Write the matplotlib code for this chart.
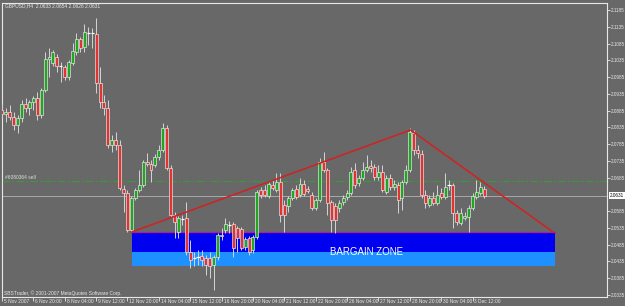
import matplotlib
matplotlib.use('Agg')
import matplotlib.pyplot as plt
from matplotlib.patches import Rectangle
from matplotlib.transforms import blended_transform_factory

# ---- data (GBPUSD H4) ----
opens = [2.0887, 2.0875, 2.0881, 2.0866, 2.0842, 2.0863, 2.0905, 2.0893, 2.0911, 2.0922,
         2.0872, 2.0946, 2.1039, 2.1027, 2.1045, 2.1018, 2.1015, 2.0985, 2.1027, 2.1060,
         2.1099, 2.1075, 2.1116, 2.1116, 2.1114, 2.0967, 2.0911, 2.0893, 2.0782, 2.0797,
         2.0782, 2.0651, 2.0639, 2.0528, 2.0624, 2.0648, 2.0663, 2.0731, 2.0725, 2.0722,
         2.0746, 2.0767, 2.0833, 2.0714, 2.0573, 2.0522, 2.0561, 2.0564, 2.0463, 2.0445,
         2.0448, 2.0451, 2.0445, 2.0445, 2.0424, 2.0448, 2.0514, 2.0528, 2.0543, 2.0546,
         2.0534, 2.0531, 2.0478, 2.0505, 2.0469, 2.0508, 2.0648, 2.0648, 2.0630, 2.0663,
         2.0648, 2.0672, 2.0603, 2.0600, 2.0624, 2.0651, 2.0633, 2.0666, 2.0651, 2.0633,
         2.0594, 2.0618, 2.0731, 2.0708, 2.0612, 2.0600, 2.0594, 2.0612, 2.0627, 2.0639,
         2.0708, 2.0669, 2.0684, 2.0708, 2.0719, 2.0716, 2.0687, 2.0702, 2.0642, 2.0684,
         2.0657, 2.0663, 2.0624, 2.0672, 2.0708, 2.0818, 2.0767, 2.0755, 2.0633, 2.0603,
         2.0624, 2.0609, 2.0639, 2.0627, 2.0663, 2.0663, 2.0579, 2.0549, 2.0564, 2.0567,
         2.0594, 2.0627, 2.0639, 2.0651]
highs = [2.0905, 2.0893, 2.0902, 2.0881, 2.0872, 2.0917, 2.0922, 2.0917, 2.0928, 2.0940,
         2.0952, 2.1060, 2.1072, 2.1066, 2.1054, 2.1030, 2.1021, 2.1036, 2.1087, 2.1116,
         2.1105, 2.1143, 2.1134, 2.1131, 2.1161, 2.1015, 2.0931, 2.0917, 2.0812, 2.0821,
         2.0797, 2.0663, 2.0648, 2.0630, 2.0654, 2.0708, 2.0737, 2.0758, 2.0737, 2.0755,
         2.0782, 2.0848, 2.0842, 2.0722, 2.0582, 2.0570, 2.0573, 2.0612, 2.0499, 2.0463,
         2.0469, 2.0469, 2.0454, 2.0463, 2.0454, 2.0519, 2.0534, 2.0564, 2.0555, 2.0552,
         2.0540, 2.0537, 2.0508, 2.0511, 2.0514, 2.0648, 2.0657, 2.0663, 2.0672, 2.0678,
         2.0699, 2.0699, 2.0618, 2.0630, 2.0654, 2.0663, 2.0684, 2.0678, 2.0660, 2.0642,
         2.0624, 2.0743, 2.0761, 2.0714, 2.0618, 2.0609, 2.0618, 2.0633, 2.0648, 2.0716,
         2.0728, 2.0693, 2.0731, 2.0752, 2.0737, 2.0725, 2.0722, 2.0722, 2.0693, 2.0696,
         2.0678, 2.0672, 2.0678, 2.0722, 2.0833, 2.0827, 2.0782, 2.0767, 2.0648, 2.0633,
         2.0642, 2.0663, 2.0654, 2.0699, 2.0678, 2.0669, 2.0588, 2.0594, 2.0582, 2.0603,
         2.0639, 2.0678, 2.0672, 2.0660]
lows = [2.0863, 2.0851, 2.0857, 2.0827, 2.0818, 2.0851, 2.0881, 2.0872, 2.0887, 2.0857,
        2.0863, 2.0940, 2.0985, 2.1018, 2.1000, 2.0970, 2.0976, 2.0976, 2.1021, 2.1051,
        2.1060, 2.1060, 2.1081, 2.1072, 2.0937, 2.0893, 2.0872, 2.0773, 2.0761, 2.0767,
        2.0648, 2.0582, 2.0522, 2.0522, 2.0618, 2.0642, 2.0657, 2.0719, 2.0672, 2.0716,
        2.0737, 2.0761, 2.0708, 2.0567, 2.0505, 2.0505, 2.0543, 2.0454, 2.0415, 2.0421,
        2.0424, 2.0421, 2.0394, 2.0385, 2.0349, 2.0439, 2.0499, 2.0519, 2.0519, 2.0448,
        2.0463, 2.0469, 2.0469, 2.0454, 2.0460, 2.0502, 2.0624, 2.0627, 2.0624, 2.0648,
        2.0642, 2.0552, 2.0522, 2.0582, 2.0618, 2.0621, 2.0627, 2.0630, 2.0639, 2.0588,
        2.0588, 2.0612, 2.0702, 2.0573, 2.0522, 2.0519, 2.0582, 2.0603, 2.0618, 2.0633,
        2.0654, 2.0660, 2.0678, 2.0702, 2.0702, 2.0678, 2.0678, 2.0642, 2.0636, 2.0648,
        2.0648, 2.0579, 2.0588, 2.0666, 2.0702, 2.0752, 2.0743, 2.0624, 2.0594, 2.0597,
        2.0603, 2.0603, 2.0621, 2.0621, 2.0648, 2.0534, 2.0543, 2.0543, 2.0558, 2.0522,
        2.0588, 2.0621, 2.0633, 2.0624]
closes = [2.0875, 2.0881, 2.0866, 2.0842, 2.0863, 2.0905, 2.0893, 2.0911, 2.0922, 2.0872,
          2.0946, 2.1039, 2.1045, 2.1060, 2.1018, 2.1018, 2.0985, 2.1030, 2.1063, 2.1099,
          2.1072, 2.1119, 2.1116, 2.1116, 2.0967, 2.0911, 2.0893, 2.0782, 2.0797, 2.0782,
          2.0654, 2.0639, 2.0528, 2.0624, 2.0648, 2.0663, 2.0731, 2.0725, 2.0708, 2.0746,
          2.0767, 2.0833, 2.0714, 2.0573, 2.0552, 2.0564, 2.0561, 2.0463, 2.0439, 2.0445,
          2.0448, 2.0439, 2.0424, 2.0421, 2.0448, 2.0514, 2.0511, 2.0546, 2.0543, 2.0475,
          2.0505, 2.0475, 2.0502, 2.0463, 2.0508, 2.0642, 2.0633, 2.0633, 2.0666, 2.0654,
          2.0672, 2.0573, 2.0573, 2.0624, 2.0648, 2.0627, 2.0666, 2.0636, 2.0645, 2.0594,
          2.0618, 2.0731, 2.0708, 2.0609, 2.0558, 2.0558, 2.0609, 2.0624, 2.0639, 2.0702,
          2.0663, 2.0684, 2.0708, 2.0716, 2.0714, 2.0687, 2.0702, 2.0648, 2.0684, 2.0657,
          2.0666, 2.0618, 2.0672, 2.0708, 2.0821, 2.0767, 2.0758, 2.0633, 2.0609, 2.0624,
          2.0609, 2.0633, 2.0627, 2.0657, 2.0663, 2.0579, 2.0552, 2.0579, 2.0570, 2.0594,
          2.0630, 2.0642, 2.0657, 2.0631]

xtick_idx = [0, 8, 16, 24, 32, 40, 48, 56, 64, 72, 80, 88, 96, 104, 112, 120]
xtick_labels = ['5 Nov 2007', '6 Nov 20:00', '8 Nov 04:00', '9 Nov 12:00', '12 Nov 20:00',
                '14 Nov 04:00', '15 Nov 12:00', '16 Nov 20:00', '20 Nov 04:00', '21 Nov 12:00',
                '22 Nov 20:00', '26 Nov 04:00', '27 Nov 12:00', '28 Nov 20:00', '30 Nov 04:00',
                '3 Dec 12:00']
ytick_vals = [2.1185, 2.1135, 2.1085, 2.1035, 2.0985, 2.0935, 2.0885, 2.0835, 2.0785,
              2.0735, 2.0685, 2.0585, 2.0535, 2.0485, 2.0435, 2.0385, 2.0335]
ytick_labels = ['%.4f' % v for v in ytick_vals]

bid_price = 2.0631
order_price = 2.0675
trend_x = [33.0, 104.2, 140.6]
trend_y = [2.0522, 2.0827, 2.0522]
zone_x = [33.2, 141.1]
zone_levels = [2.0522, 2.0463, 2.0421]
zone_label_x = 93.0
title_text = 'GBPUSD,H4  2.0633 2.0654 2.0626 2.0631'

# ---- style ----
W, H = 625, 306
BG = '#686868'
FG = '#e8e8e8'
UP = '#22a522'
DN = '#e03434'
FONT = 'Liberation Sans'

fig = plt.figure(figsize=(W / 100, H / 100), dpi=100)
fig.patch.set_facecolor(BG)
ax = fig.add_axes([2 / W, 9 / H, 605 / W, 294 / H])
ax.set_facecolor(BG)
ax.set_xlim(0.36, 154.3)
ax.set_ylim(2.03285, 2.12060)

# zones
ax.add_patch(Rectangle((zone_x[0], zone_levels[1]), zone_x[1] - zone_x[0],
                       zone_levels[0] - zone_levels[1], facecolor='#0000f0',
                       edgecolor='none', zorder=1))
ax.add_patch(Rectangle((zone_x[0], zone_levels[2]), zone_x[1] - zone_x[0],
                       zone_levels[1] - zone_levels[2], facecolor='#1e90ff',
                       edgecolor='none', zorder=1))
ax.plot(zone_x, [zone_levels[0], zone_levels[0]], color='#b0208a', lw=0.9, zorder=1.5)
ax.text(zone_label_x, zone_levels[1] + 0.0001, 'BARGAIN ZONE',
        color='white', fontsize=7, family=FONT, ha='center', va='center', zorder=5)

# horizontal lines
ax.axhline(order_price, color='#3a9a3a', lw=0.8, ls=(0, (7, 2, 1.5, 2)), zorder=1.2)
ax.axhline(bid_price, color='#a8a8a8', lw=0.7, zorder=1.2)

# candles
n = len(opens)
for i in range(n):
    o, h, l, c = opens[i], highs[i], lows[i], closes[i]
    ax.vlines(i, l, h, color='#d4d4d4', lw=0.7, zorder=3)
    if abs(c - o) < 0.00012:
        ax.hlines((o + c) / 2, i - 0.4, i + 0.4, color='white', lw=0.9, zorder=4)
    else:
        col = UP if c > o else DN
        ax.add_patch(Rectangle((i - 0.38, min(o, c)), 0.76, abs(c - o), facecolor=col,
                               edgecolor='#eeeeee', lw=0.45, zorder=4))

# trend lines
ax.plot(trend_x, trend_y, color='#d42020', lw=1.1, zorder=6)

# axes frame / ticks
for s in ax.spines.values():
    s.set_color(FG)
    s.set_linewidth(0.8)
ax.yaxis.tick_right()
ax.set_yticks(ytick_vals)
ax.set_yticklabels(ytick_labels)
ax.tick_params(axis='y', length=2, width=0.6, color=FG, labelcolor=FG,
               labelsize=3.3, pad=0.6)
for t in ax.get_yticklabels():
    t.set_family(FONT)
ax.set_xticks(xtick_idx)
ax.set_xticklabels([''] * len(xtick_idx))
ax.tick_params(axis='x', length=3, width=0.6, color=FG, direction='out', pad=0)

tr = blended_transform_factory(ax.transData, fig.transFigure)
for xi, lab in zip(xtick_idx, xtick_labels):
    ax.text(xi + 0.5, 1 - 301.5 / H, lab, transform=tr, color=FG, fontsize=3.5,
            family=FONT, ha='left', va='center', clip_on=False)

# current price label
trb = blended_transform_factory(fig.transFigure, ax.transData)
ax.text(610 / W, bid_price, '2.0631', transform=trb, color='black', fontsize=3.3,
        family=FONT, ha='left', va='center',
        bbox=dict(boxstyle='square,pad=0.15', facecolor='white', edgecolor='none'),
        clip_on=False, zorder=7)

# texts
fig.text(5 / W, 1 - 5.5 / H, title_text, color=FG, fontsize=3.5, family=FONT,
         ha='left', va='center')
fig.text(5 / W, 1 - 177 / H, '#6080364 sell', color='#dddddd', fontsize=3.5,
         family=FONT, ha='left', va='center')
fig.text(4 / W, 1 - 293 / H, 'SBSTrader, \u00a9 2001-2007 MetaQuotes Software Corp.',
         color=FG, fontsize=3.5, family=FONT, ha='left', va='center')

fig.savefig('out.png', dpi=100, facecolor=BG)
